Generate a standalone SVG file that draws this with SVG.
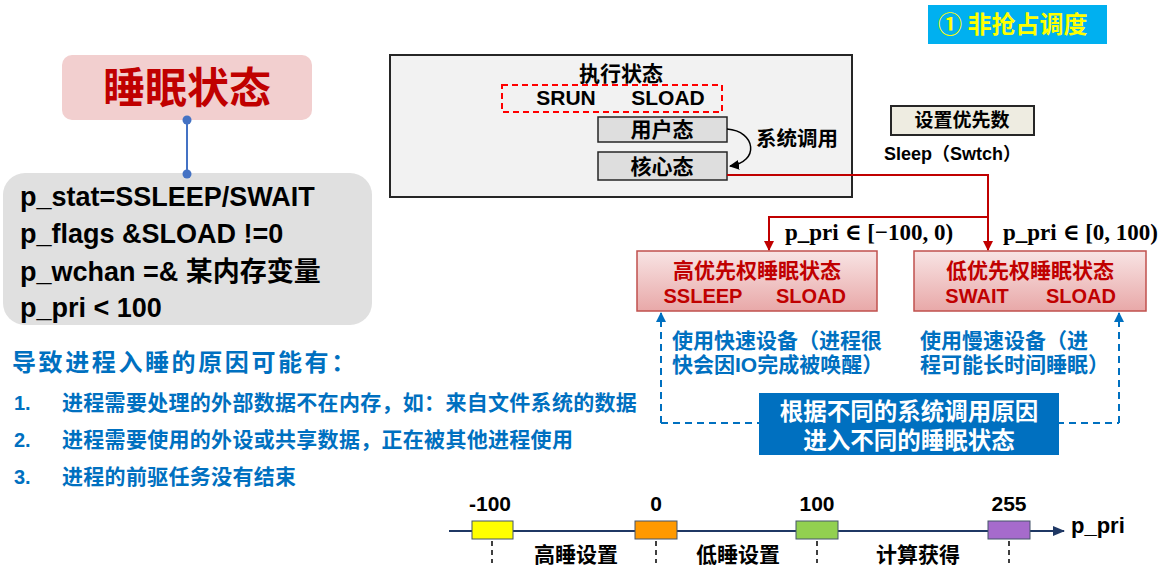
<svg xmlns="http://www.w3.org/2000/svg" width="1170" height="574" viewBox="0 0 1170 574">
<style>
text{font-family:"Liberation Sans","Noto Sans CJK SC",sans-serif;font-weight:bold}
.cjk{font-family:"Noto Sans CJK SC","Liberation Sans",sans-serif;font-weight:bold}
.math{font-family:"Liberation Serif","DejaVu Serif","Noto Sans CJK SC",serif;font-weight:bold;font-size:23px;fill:#000}
.blue{fill:#0070C0}
.red{fill:#C00000}
.mid{text-anchor:middle}
.gbox{fill:#DEDEDE;stroke:#262626;stroke-width:1.5}
.rbox{fill:url(#rg);stroke:#C0504D;stroke-width:1.5}
.tick{stroke:#000;stroke-width:1.5;stroke-dasharray:5 4}
.nbox{stroke:#44546A;stroke-width:1}
</style>
<defs>
<linearGradient id="rg" x1="0" y1="0" x2="0" y2="1">
<stop offset="0" stop-color="#F8E4E4"/>
<stop offset="1" stop-color="#E8A8A8"/>
</linearGradient>
<marker id="ar" markerWidth="10" markerHeight="10" refX="9" refY="5" orient="auto" markerUnits="userSpaceOnUse">
<path d="M0,0 L10,5 L0,10 z" fill="#C00000"/>
</marker>
<marker id="ab" markerWidth="10" markerHeight="10" refX="9" refY="5" orient="auto" markerUnits="userSpaceOnUse">
<path d="M0,0 L10,5 L0,10 z" fill="#0070C0"/>
</marker>
<marker id="ak" markerWidth="10" markerHeight="10" refX="9" refY="5" orient="auto" markerUnits="userSpaceOnUse">
<path d="M0,0 L10,5 L0,10 z" fill="#000"/>
</marker>
<marker id="an" markerWidth="12" markerHeight="10" refX="11" refY="5" orient="auto" markerUnits="userSpaceOnUse">
<path d="M0,0 L12,5 L0,10 z" fill="#1F3864"/>
</marker>
</defs>

<g id="badge">
<rect x="928" y="5" width="179" height="39" fill="#00B0F0"/>
<text x="938" y="33" class="cjk" font-size="24" fill="#FFFF00">① 非抢占调度</text>
</g>

<g id="title">
<rect x="62" y="55" width="250" height="65" rx="10" fill="#F2CFCF"/>
<text x="187" y="103" class="cjk red mid" font-size="42">睡眠状态</text>
</g>

<g id="state-box">
<rect x="3" y="173" width="369" height="152" rx="22" fill="#E0E0E0"/>
<text x="20" y="206" font-size="27">p_stat=SSLEEP/SWAIT</text>
<text x="20" y="243" font-size="27">p_flags &amp;SLOAD !=0</text>
<text x="20" y="281" font-size="27">p_wchan =&amp; 某内存变量</text>
<text x="20" y="317" font-size="27">p_pri &lt; 100</text>
</g>

<g id="reasons">
<text x="12" y="371" class="cjk blue" font-size="24" letter-spacing="2.6">导致进程入睡的原因可能有：</text>
<text x="14" y="410" class="blue" font-size="20">1.</text>
<text x="62" y="410" class="cjk blue" font-size="21" letter-spacing="0.3">进程需要处理的外部数据不在内存，如：来自文件系统的数据</text>
<text x="14" y="447" class="blue" font-size="20">2.</text>
<text x="62" y="447" class="cjk blue" font-size="21" letter-spacing="0.3">进程需要使用的外设或共享数据，正在被其他进程使用</text>
<text x="14" y="484" class="blue" font-size="20">3.</text>
<text x="62" y="484" class="cjk blue" font-size="21" letter-spacing="0.3">进程的前驱任务没有结束</text>
</g>

<g id="exec-state">
<rect x="390" y="55" width="462" height="142" fill="#F2F2F2" stroke="#262626" stroke-width="2"/>
<text x="621" y="81" class="cjk mid" font-size="21">执行状态</text>
<rect x="502" y="85" width="220" height="27" fill="none" stroke="#FF0000" stroke-width="2" stroke-dasharray="6 4"/>
<text x="566" y="105" class="mid" font-size="21">SRUN</text>
<text x="668" y="105" class="mid" font-size="21">SLOAD</text>
</g>

<g id="user-mode">
<rect x="598" y="117" width="129" height="25" class="gbox"/>
<text x="662" y="137" class="cjk mid" font-size="21">用户态</text>
</g>

<g id="kernel-mode">
<rect x="598" y="152" width="129" height="28" class="gbox"/>
<text x="662" y="174" class="cjk mid" font-size="21">核心态</text>
</g>

<g id="syscall-label">
<text x="756" y="146" class="cjk" font-size="20.5">系统调用</text>
</g>

<g id="set-priority">
<rect x="891" y="106" width="143" height="29" fill="#EEECE1" stroke="#262626" stroke-width="2"/>
<text x="962" y="127" class="cjk mid" font-size="19">设置优先数</text>
<text x="884" y="160" font-size="18">Sleep（Swtch）</text>
</g>

<g id="high-sleep">
<rect x="637" y="251" width="240" height="60" class="rbox"/>
<text x="757" y="278" class="cjk red mid" font-size="21">高优先权睡眠状态</text>
<text x="703" y="303" class="red mid" font-size="20">SSLEEP</text>
<text x="811" y="303" class="red mid" font-size="20">SLOAD</text>
</g>

<g id="low-sleep">
<rect x="914" y="251" width="232" height="60" class="rbox"/>
<text x="1030" y="278" class="cjk red mid" font-size="21">低优先权睡眠状态</text>
<text x="977" y="303" class="red mid" font-size="20">SWAIT</text>
<text x="1081" y="303" class="red mid" font-size="20">SLOAD</text>
</g>

<g id="connectors" fill="none">
<line x1="187" y1="120" x2="187" y2="174" stroke="#4472C4" stroke-width="2"/>
<circle cx="187" cy="120" r="4.5" fill="#4472C4"/>
<circle cx="187" cy="174" r="4.5" fill="#4472C4"/>
<path d="M727,129 C756,131 760,162 730,166" stroke="#000" stroke-width="1.5" marker-end="url(#ak)"/>
<path d="M727,175 H988 V250" stroke="#C00000" stroke-width="2" marker-end="url(#ar)"/>
<path d="M988,217 H769 V250" stroke="#C00000" stroke-width="2" marker-end="url(#ar)"/>
<path d="M661,423 V313" stroke="#0070C0" stroke-width="2" stroke-dasharray="7 5" marker-end="url(#ab)"/>
<path d="M1119,423 V313" stroke="#0070C0" stroke-width="2" stroke-dasharray="7 5" marker-end="url(#ab)"/>
<path d="M661,423 H1119" stroke="#0070C0" stroke-width="2" stroke-dasharray="7 5"/>
</g>

<g id="range-labels">
<text x="785" y="240" class="math">p_pri ∈ [−100, 0)</text>
<text x="1003" y="240" class="math">p_pri ∈ [0, 100)</text>
</g>

<g id="device-notes">
<text x="672" y="348" class="blue" font-size="21">使用快速设备（进程很</text>
<text x="672" y="372" class="blue" font-size="21">快会因IO完成被唤醒）</text>
<text x="920" y="348" class="blue" font-size="21">使用慢速设备（进</text>
<text x="920" y="372" class="blue" font-size="21">程可能长时间睡眠）</text>
</g>

<g id="callout">
<rect x="759" y="393" width="300" height="62" fill="#0070C0"/>
<text x="909" y="420" class="mid" font-size="23.5" fill="#FFFFFF">根据不同的系统调用原因</text>
<text x="909" y="449" class="mid" font-size="23.5" fill="#FFFFFF">进入不同的睡眠状态</text>
</g>

<g id="number-line">
<path d="M449,531 H1064" stroke="#1F3864" stroke-width="2" fill="none" marker-end="url(#an)"/>
<rect x="472" y="521" width="41" height="18" fill="#FFFF00" class="nbox"/>
<rect x="635" y="521" width="42" height="18" fill="#FF9900" class="nbox"/>
<rect x="796" y="521" width="42" height="18" fill="#92D050" class="nbox"/>
<rect x="988" y="521" width="42" height="18" fill="#A66BCC" class="nbox"/>
<line x1="492" y1="541" x2="492" y2="563" class="tick"/>
<line x1="656" y1="541" x2="656" y2="563" class="tick"/>
<line x1="817" y1="541" x2="817" y2="563" class="tick"/>
<line x1="1009" y1="541" x2="1009" y2="563" class="tick"/>
<text x="490" y="511" class="mid" font-size="21">-100</text>
<text x="656" y="511" class="mid" font-size="21">0</text>
<text x="817" y="511" class="mid" font-size="21">100</text>
<text x="1009" y="511" class="mid" font-size="21">255</text>
<text x="1071" y="533" font-size="22">p_pri</text>
<text x="534" y="562" class="cjk" font-size="21">高睡设置</text>
<text x="696" y="562" class="cjk" font-size="21">低睡设置</text>
<text x="876" y="562" class="cjk" font-size="21">计算获得</text>
</g>
</svg>
